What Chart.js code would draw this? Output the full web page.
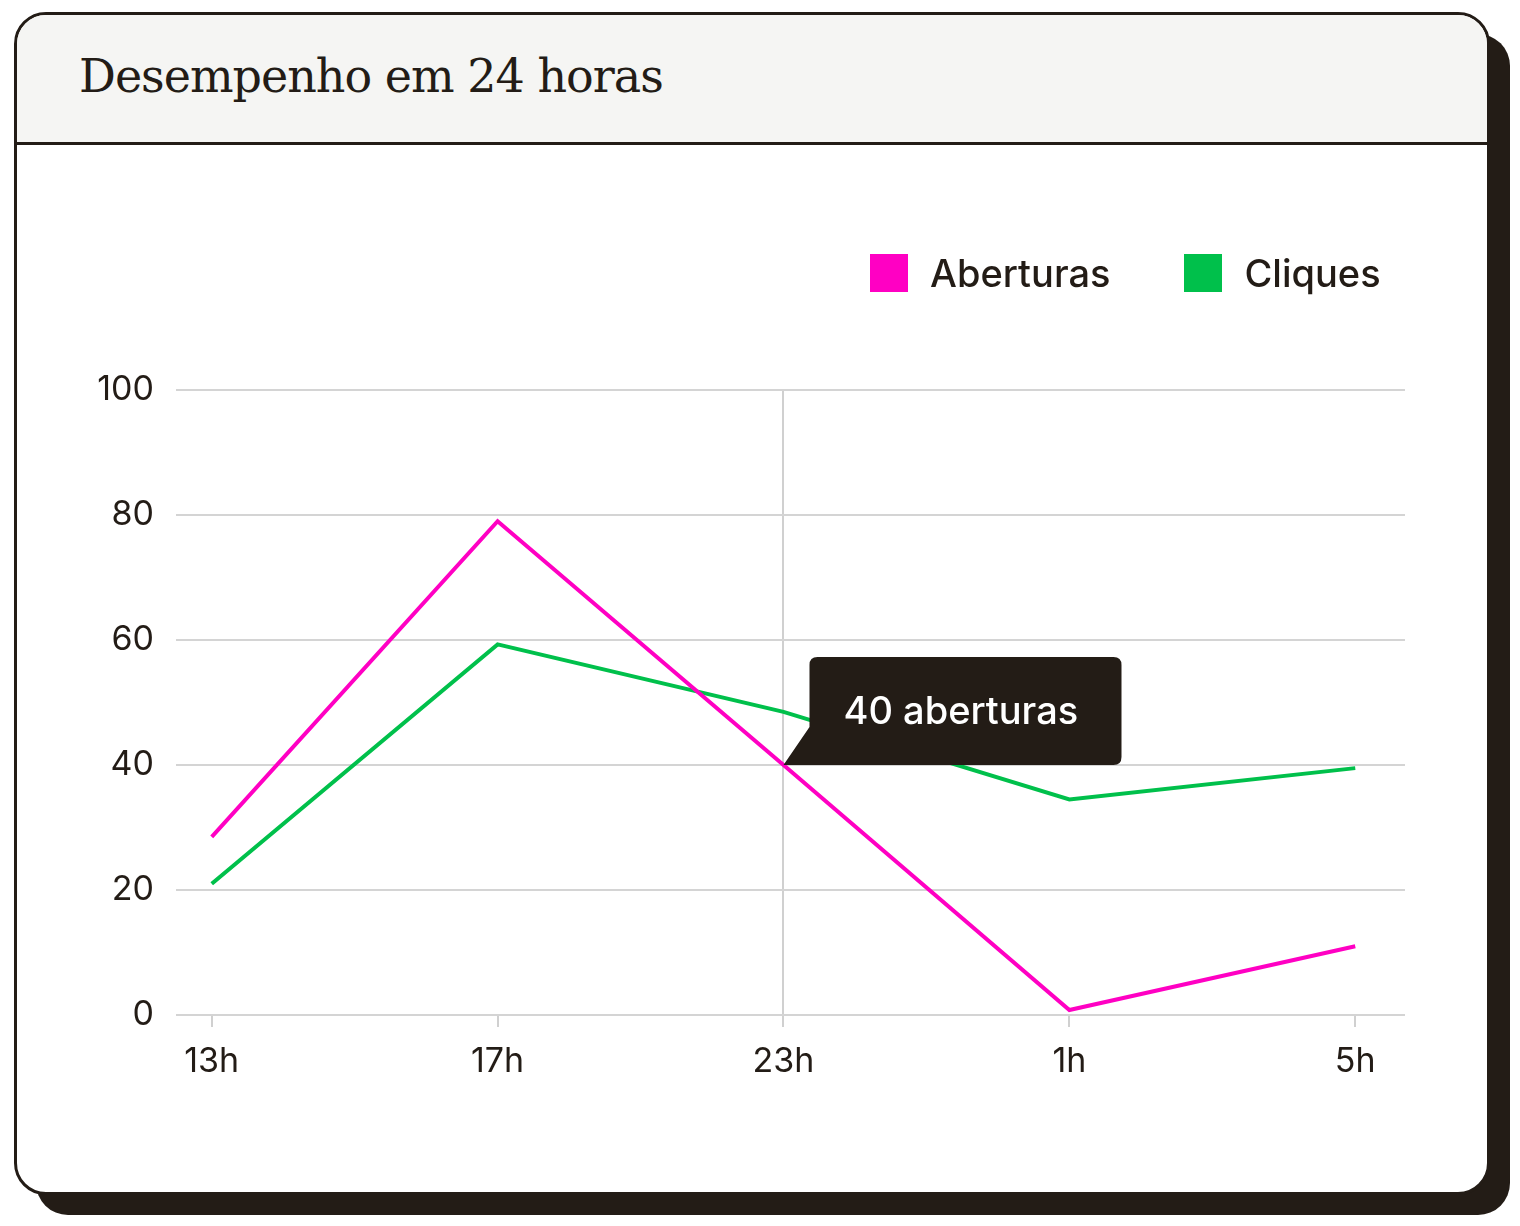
<!DOCTYPE html>
<html><head><meta charset="utf-8">
<script src="https://cdn.jsdelivr.net/npm/chart.js@4/dist/chart.umd.min.js"></script>
<style>
body{margin:0;background:#fff;width:1520px;height:1226px;position:relative;font-family:Inter,sans-serif}
.shadow{position:absolute;left:36px;top:34px;width:1474px;height:1181px;background:#231c16;border-radius:32px}
.card{position:absolute;left:14px;top:12px;width:1470px;height:1177px;background:#fff;border:3px solid #231c16;border-radius:32px;overflow:hidden}
.head{height:127px;background:#f5f5f3;border-bottom:3px solid #231c16;position:relative}
.head h1{margin:0;position:absolute;left:62px;top:34px;font-family:"DejaVu Serif",serif;font-weight:normal;font-size:46px;color:#231c16;letter-spacing:-1px}
.legend{position:absolute;top:250px;left:870px;display:flex;align-items:center;font-size:38px;font-weight:500;color:#231c16}
.sw{width:38px;height:38px;display:inline-block;margin-right:22px}
canvas{position:absolute;left:0;top:130px}
</style></head><body>
<div class="shadow"></div>
<div class="card"><div class="head"><h1>Desempenho em 24 horas</h1></div>
<canvas id="c" width="1470" height="1047" style="width:1470px;height:1047px"></canvas></div>
<div class="legend"><span class="sw" style="background:#ff00c3"></span>Aberturas<span style="width:74px"></span><span class="sw" style="background:#00c04b"></span>Cliques</div>
<script>
const categories=['13h','17h','23h','1h','5h'];
const aberturas=[28.5,79,40,0.8,11];
const cliques=[21,59.3,48.5,34.5,39.5];
const yTicks=[0,20,40,60,80,100];
const tooltipIndex=2, tooltipText='40 aberturas';
const tip={id:'tip',afterDatasetsDraw(ch){
 const c=ch.ctx,x=ch.scales.x.getPixelForValue(tooltipIndex),y=ch.scales.y.getPixelForValue(aberturas[tooltipIndex]);
 const l=x+26,t=y-108,w=312,h=108,r=8;
 c.save();c.fillStyle='#231c16';c.beginPath();
 c.moveTo(l+r,t);c.lineTo(l+w-r,t);c.quadraticCurveTo(l+w,t,l+w,t+r);c.lineTo(l+w,t+h-r);c.quadraticCurveTo(l+w,t+h,l+w-r,t+h);
 c.lineTo(x,y);c.lineTo(l,t+h-38);c.lineTo(l,t+r);c.quadraticCurveTo(l,t,l+r,t);c.fill();
 c.fillStyle='#fff';c.font='500 38px Inter';c.textBaseline='middle';c.fillText(tooltipText,l+34,t+h/2+2);c.restore();}};
new Chart(document.getElementById('c'),{type:'line',
data:{datasets:[
{label:'Aberturas',data:aberturas.map((v,i)=>({x:i,y:v})),borderColor:'#ff00c3',borderWidth:4,pointRadius:0,tension:0},
{label:'Cliques',data:cliques.map((v,i)=>({x:i,y:v})),borderColor:'#00c04b',borderWidth:4,pointRadius:0,tension:0}]},
options:{responsive:false,animation:false,events:[],layout:{padding:{top:245,right:82,left:0,bottom:0}},
plugins:{legend:{display:false},tooltip:{enabled:false}},
scales:{
x:{type:'linear',min:-0.125,max:4.174,afterBuildTicks(s){s.ticks=categories.map((_,i)=>({value:i}));},
 afterFit(s){s.height=177;},border:{display:false},
 grid:{color:ctx=>ctx.tick&&ctx.tick.value===tooltipIndex?'#d0d0d0':'rgba(0,0,0,0)',lineWidth:2,tickColor:'#d0d0d0',tickLength:12},
 ticks:{callback:v=>categories[v],color:'#231c16',font:{size:34,family:'Inter'},padding:14,maxRotation:0}},
y:{min:0,max:100,afterBuildTicks(s){s.ticks=yTicks.map(v=>({value:v}));},afterFit(s){s.width=159;},
 border:{display:false},grid:{color:'#d4d4d4',lineWidth:2,drawTicks:false},
 ticks:{color:'#231c16',font:{size:34,family:'Inter'},padding:22}}}},
plugins:[tip]});
</script></body></html>
